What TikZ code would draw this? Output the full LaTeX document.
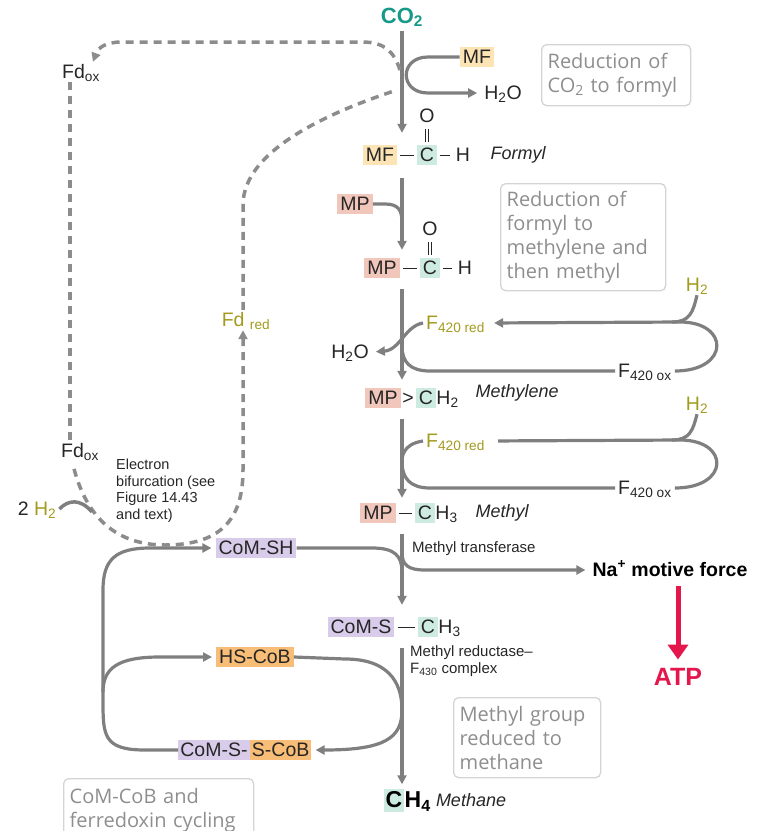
\documentclass[tikz,border=0pt]{standalone}
\usepackage{fontspec}
\setmainfont{Liberation Sans}
\newfontfamily\notefont{Open Sans}
\usetikzlibrary{arrows.meta,positioning}
\definecolor{mgline}{HTML}{7F7F7F}
\definecolor{mgdash}{HTML}{8C8C8C}
\definecolor{mgtext}{HTML}{262626}
\definecolor{mgteal}{HTML}{17998A}
\definecolor{mgtealbg}{HTML}{CDEBE1}
\definecolor{mgmf}{HTML}{FCE4B4}
\definecolor{mgmp}{HTML}{F1C6BB}
\definecolor{mgcom}{HTML}{D8CCEA}
\definecolor{mgcob}{HTML}{F8BD76}
\definecolor{mgolive}{HTML}{A39A1E}
\definecolor{mgred}{HTML}{E3174B}
\definecolor{mgnote}{HTML}{8E8E8E}
\definecolor{mgnoteline}{HTML}{D4D4D4}

\begin{document}
\begin{tikzpicture}[x=1pt, y=-1pt,
  lbl/.style={font=\fontsize{19.5}{23}\selectfont, text=mgtext, inner xsep=3pt, inner ysep=2.5pt,
              text height=13.5pt, text depth=1.5pt},
  mfbox/.style={lbl, fill=mgmf},
  mpbox/.style={lbl, fill=mgmp},
  cbox/.style={lbl, fill=mgtealbg, inner xsep=2.5pt},
  combox/.style={lbl, fill=mgcom},
  cobbox/.style={lbl, fill=mgcob},
  olv/.style={lbl, text=mgolive},
  ital/.style={font=\itshape\fontsize{18}{22}\selectfont, text=mgtext, anchor=west},
  small/.style={font=\fontsize{15}{17}\selectfont, text=mgtext, align=left, anchor=north west, inner sep=0pt},
  note/.style={draw=mgnoteline, line width=1.3pt, rounded corners=5pt, font=\notefont\fontsize{20}{24}\selectfont,
               text=mgnote, align=left, anchor=north west, inner xsep=6pt, inner ysep=5pt},
  flow/.style={draw=mgline, line width=3.2pt},
  flowarr/.style={flow, -{Triangle[length=9pt,width=9pt]}, shorten >=4pt},
  mainarr/.style={flowarr, shorten <=11pt, shorten >=8pt},
  fdash/.style={draw=mgdash, line width=3.5pt, dash pattern=on 8pt off 6pt},
  bond/.style={draw=mgtext, line width=1pt, shorten <=3pt, shorten >=3pt},
  redarr/.style={draw=mgred, line width=5pt, -{Triangle[length=15pt,width=20pt]}},
]
\useasboundingbox (0,0) rectangle (759,831);

% main pathway, CO2 down to methane
\coordinate (ax) at (402,0);
\node[lbl, font=\bfseries\fontsize{22}{26}\selectfont, text=mgteal] (co2) at (402,17) {CO\textsubscript{2}};
\node[mfbox] (mf1) at (477,57) {MF};
\node[lbl] (h2oa) at (503,93) {H\textsubscript{2}O};

\node[mfbox] (mf2) at (380,155) {MF};
\node[cbox] (c1) at (427,155) {C};
\node[lbl] (h1) at (463,155) {H};
\node[lbl] (o1) at (427,116) {O};
\node[ital] (formyl) at (487,155) {Formyl};

\node[mpbox] (mp1) at (355,204) {MP};
\node[mpbox] (mp2) at (382,268) {MP};
\node[cbox] (c2) at (430,268) {C};
\node[lbl] (h2) at (465,268) {H};
\node[lbl] (o2) at (430,229) {O};

\node[mpbox] (mp3) at (383,398) {MP};
\node[lbl, inner xsep=0pt] (gt) at (408,398) {>};
\node[cbox] (c3) at (426,398) {C};
\node[lbl, right=0pt of c3, inner xsep=0.5pt] (h3) {H\textsubscript{2}};
\node[ital] (methylene) at (472,393) {Methylene};

\node[mpbox] (mp4) at (378,513) {MP};
\node[cbox] (c4) at (425,513) {C};
\node[lbl, right=0pt of c4, inner xsep=0.5pt] (h4) {H\textsubscript{3}};
\node[ital] (methyl) at (472,513) {Methyl};

\node[combox] (coms) at (361,627) {CoM-S};
\node[cbox] (c5) at (428,627) {C};
\node[lbl, right=0pt of c5, inner xsep=0.5pt] (h5) {H\textsubscript{3}};

\node[cbox, font=\bfseries\fontsize{23}{26}\selectfont, text=black, text height=16.5pt, inner xsep=1.5pt] (c6) at (394,800) {C};
\node[lbl, font=\bfseries\fontsize{23}{26}\selectfont, text=black, text height=16.5pt, right=0pt of c6, inner xsep=0.5pt] (h6) {H\textsubscript{4}};
\node[ital, right=1pt of h6] (methane) {Methane};

\draw[bond] (mf2) -- (c1);
\draw[bond] (c1) -- (h1);
\draw[bond, double distance=2.5pt] (c1) -- (o1);
\draw[bond] (mp2) -- (c2);
\draw[bond] (c2) -- (h2);
\draw[bond, double distance=2.5pt] (c2) -- (o2);
\draw[bond] (mp4) -- (c4);
\draw[bond] (coms) -- (c5);

\draw[mainarr, shorten <=4pt, shorten >=12pt] (co2.south) -- (ax |- mf2.north);
\draw[mainarr, shorten <=13pt] (ax |- mf2.south) -- (ax |- mp2.north);
\draw[mainarr] (ax |- mp2.south) -- (ax |- mp3.north);
\draw[mainarr, shorten >=5pt] (ax |- mp3.south) -- (ax |- mp4.north);
\draw[mainarr, shorten >=12pt] (ax |- mp4.south) -- (ax |- coms.north);
\draw[mainarr, shorten >=4pt] (ax |- coms.south) -- (ax |- c6.north);

% side reactions
\draw[flowarr] (mf1.west) -- (428,57) .. controls (399,57) and (399,93) .. (428,93) -- (h2oa.west);
\draw[flow] (mp1.east) -- (385,204) .. controls (398,204) and (402,210) .. (402,222);

% F420 loops
\node[olv] (h2t1) at (697,285) {H\textsubscript{2}};
\node[olv, anchor=west] (f420r1) at (423,323) {F\textsubscript{420 red}};
\node[lbl, anchor=west] (f420o1) at (615,371) {F\textsubscript{420 ox}};
\node[lbl] (h2ob) at (350,352) {H\textsubscript{2}O};
\coordinate (j1) at (402,346);
\draw[flowarr, shorten >=6pt] (f420o1.east) .. controls (730,371) and (730,322) .. (680,322) -- (f420r1.east);
\draw[flow] (h2t1.south) .. controls (693,312) and (690,322) .. (672,322);
\draw[flowarr] (f420r1.west) .. controls (405,326) and (400,350) .. (h2ob.east);
\draw[flow] (j1) .. controls (402,362) and (410,371) .. (430,371) -- (f420o1.west);

\node[olv] (h2t2) at (697,404) {H\textsubscript{2}};
\node[olv, anchor=west] (f420r2) at (423,441) {F\textsubscript{420 red}};
\node[lbl, anchor=west] (f420o2) at (615,488) {F\textsubscript{420 ox}};
\draw[flow, shorten >=10pt] (f420o2.east) .. controls (730,488) and (730,440) .. (680,440) -- (f420r2.east);
\draw[flow] (h2t2.south) .. controls (693,430) and (690,440) .. (672,440);
\draw[flow] (f420r2.west) .. controls (402,444) and (402,458) .. (402,462)
  .. controls (402,478) and (410,488) .. (430,488) -- (f420o2.west);

% methyl transfer and Na+ gradient
\node[combox] (comsh) at (256,548) {CoM-SH};
\node[lbl, font=\bfseries\fontsize{19.5}{23}\selectfont, text=black] (namf) at (670,570) {Na\textsuperscript{+} motive force};
\node[lbl, font=\bfseries\fontsize{25}{28}\selectfont, text=mgred, text height=18pt] (atp) at (678,677) {ATP};
\node[small] (mtrans) at (412,541) {Methyl transferase};
\coordinate (j2) at (402,552);
\draw[flow] (comsh.east) -- (372,548) .. controls (395,548) and (402,556) .. (402,572);
\draw[flowarr] (j2) .. controls (402,565) and (408,570) .. (425,570) -- (namf.west);
\draw[redarr, shorten <=6pt, shorten >=5pt] (atp.north |- namf.south) -- (atp.north);

% methyl reduction, CoM / CoB cycling
\node[small] (mred) at (410,645) {Methyl reductase–\\F\textsubscript{430} complex};
\node[cobbox] (hscob) at (255,657) {HS-CoB};
\node[combox, inner xsep=2pt] (cossa) at (214,750) {CoM-S-};
\node[cobbox, right=0pt of cossa, inner xsep=2pt] (cossb) {S-CoB};
\coordinate (jl) at (103,692);
\draw[flowarr] (hscob.east) -- (345,659) .. controls (395,659) and (402,690) .. (402,710)
  .. controls (402,738) and (385,750) .. (cossb.east);
\draw[flowarr] (cossa.west) -- (145,750) .. controls (103,750) and (103,735) .. (103,700)
  -- (103,590) .. controls (103,560) and (115,548) .. (150,548) -- (comsh.west);
\draw[flowarr] (jl) .. controls (103,668) and (118,657) .. (160,657) -- (hscob.west);

% ferredoxin cycling
\node[lbl] (fdox1) at (81,72) {Fd\textsubscript{ox}};
\node[lbl] (fdox2) at (80,451) {Fd\textsubscript{ox}};
\node[olv] (fdred) at (246,320) {Fd \textsubscript{red}};
\node[lbl] (h2bif) at (37,509) {2 \textcolor{mgolive}{H\textsubscript{2}}};
\node[small, font=\fontsize{14.5}{16.5}\selectfont] (bif) at (116,459) {Electron\\bifurcation (see\\Figure 14.43\\and text)};
\coordinate (fdout) at (400,70);
\coordinate (fdin) at (397,90);
\draw[fdash, -{Triangle[length=9pt,width=9pt]}] (fdout) .. controls (394,52) and (385,42) .. (362,42)
  -- (122,42) .. controls (105,42) and (98,48) .. ([xshift=12pt]fdox1.north);
\draw[fdash] ([xshift=-11pt]fdox1.south) -- ([xshift=-10pt]fdox2.north);
\draw[fdash, -{Triangle[length=9pt,width=9pt]}, shorten <=8pt] ([xshift=-8pt]fdox2.south) .. controls (85,510) and (110,545) .. (165,545)
  .. controls (225,545) and (243,515) .. (243,470) -- ([xshift=-3pt]fdred.south);
\draw[fdash] ([xshift=-3pt]fdred.north) -- (243,205) .. controls (243,150) and (330,112) .. (fdin);
\draw[flow, line width=3.5pt] (h2bif.east) .. controls (68,500) and (80,498) .. (92,512);

% notes
\node[note, text width=137pt, minimum height=61pt] (n1) at (541,44) {Reduction of\\CO\textsubscript{2} to formyl};
\node[note, text width=153pt, minimum height=107pt] (n2) at (500,183) {Reduction of\\formyl to\\methylene and\\then methyl};
\node[note, text width=135pt, minimum height=80pt] (n3) at (453,697) {Methyl group\\reduced to\\methane};
\node[note, text width=178pt, minimum height=64pt] (n4) at (63,778) {CoM-CoB and\\ferredoxin cycling};

\end{tikzpicture}
\end{document}
